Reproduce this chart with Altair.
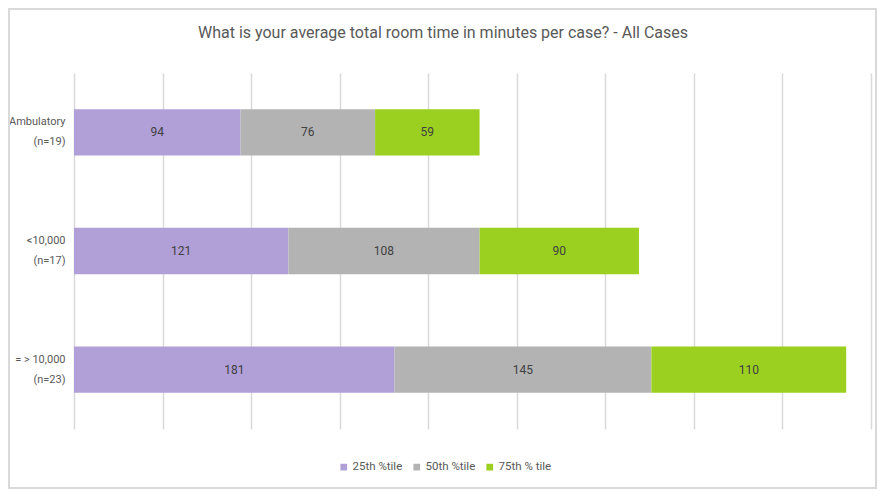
import altair as alt
import pandas as pd

categories = ["Ambulatory (n=19)", "<10,000 (n=17)", "= > 10,000 (n=23)"]
series = ["25th %tile", "50th %tile", "75th % tile"]
p25 = [94, 121, 181]
p50 = [76, 108, 145]
p75 = [59, 90, 110]
colors = ["#b19fd8", "#b3b3b3", "#9bd020"]
title_text = "What is your average total room time in minutes per case? - All Cases"

rows = []
for i, c in enumerate(categories):
    for j, (s, vals) in enumerate(zip(series, [p25, p50, p75])):
        rows.append({"category": c, "series": s, "order": j, "value": vals[i]})
df = pd.DataFrame(rows)

FONT = "Roboto, sans-serif"

y_enc = alt.Y(
    "category:N",
    sort=categories,
    title=None,
    scale=alt.Scale(paddingInner=0.61, paddingOuter=0.305),
    axis=alt.Axis(
        domain=False, ticks=False, labelFontSize=11, labelColor="#595959",
        labelFont=FONT, labelPadding=9, labelLineHeight=20, labelOffset=-10,
        labelExpr="split(replace(datum.label, ' (', '|('), '|')",
    ),
)

bars = alt.Chart(df).mark_bar().encode(
    x=alt.X(
        "value:Q", stack="zero", title=None,
        scale=alt.Scale(domain=[0, 450], nice=False),
        axis=alt.Axis(values=list(range(0, 451, 50)), labels=False, ticks=False,
                      domain=False, grid=True, gridColor="#d9d9d9", gridWidth=1.5),
    ),
    y=y_enc,
    color=alt.Color(
        "series:N", sort=series,
        scale=alt.Scale(domain=series, range=colors),
        legend=alt.Legend(
            title=None, orient="none", direction="horizontal", legendX=264, legendY=388,
            symbolType="square", symbolSize=45, symbolStrokeWidth=0,
            labelFontSize=11.5, labelColor="#595959", labelFont=FONT, columnPadding=8,
            symbolOffset=0, labelOffset=3,
        ),
    ),
    order=alt.Order("order:Q"),
)

labels = alt.Chart(df).transform_stack(
    stack="value", groupby=["category"], as_=["v0", "v1"],
    sort=[alt.SortField("order", order="ascending")],
).transform_calculate(mid="(datum.v0 + datum.v1) / 2").mark_text(
    fontSize=12, color="#404040", font=FONT,
).encode(
    x=alt.X("mid:Q"),
    y=alt.Y("category:N", sort=categories),
    text="value:Q",
)

title = alt.Chart(pd.DataFrame({"t": [title_text]})).mark_text(
    fontSize=16, color="#595959", font=FONT, align="center", baseline="middle",
).encode(x=alt.value(369), y=alt.value(-40), text="t:N")

border = alt.Chart(pd.DataFrame({"a": [0]})).mark_rect(
    fill=None, stroke="#d9d9d9", strokeWidth=2,
).encode(x=alt.value(-65), x2=alt.value(802), y=alt.value(-64), y2=alt.value(415))

chart = alt.layer(border, bars, labels, title).properties(
    width=797, height=356,
    autosize=alt.AutoSizeParams(type="none"),
    padding={"left": 66, "top": 65, "right": 6, "bottom": 60},
).configure_view(stroke=None)

chart.save("out.html", embed_options={"renderer": "svg", "actions": False})
